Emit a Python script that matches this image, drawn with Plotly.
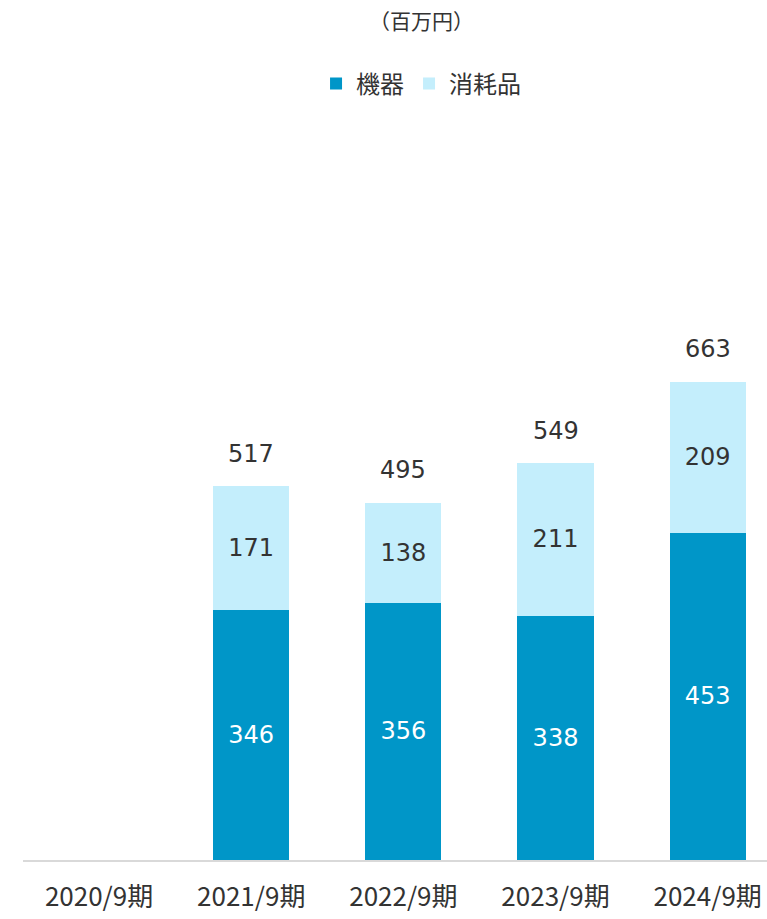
import plotly.graph_objects as go

# 売上高の内訳（百万円）
periods = ["2020/9期", "2021/9期", "2022/9期", "2023/9期", "2024/9期"]
equipment = [None, 346, 356, 338, 453]      # 機器
consumables = [None, 171, 138, 211, 209]    # 消耗品
totals = [None, 517, 495, 549, 663]

DARK = "#0096C8"
LIGHT = "#C4EEFC"
NUM_FONT = "DejaVu Sans, Verdana, sans-serif"
JP_FONT = "Noto Sans CJK JP, sans-serif"

fig = go.Figure()
fig.add_trace(go.Bar(
    x=periods, y=equipment, name="機器",
    marker=dict(color=DARK, line=dict(width=0)),
    text=[str(v) if v is not None else "" for v in equipment],
    textposition="inside", insidetextanchor="middle",
    textfont=dict(color="white", size=24, family=NUM_FONT),
))
fig.add_trace(go.Bar(
    x=periods, y=consumables, name="消耗品",
    marker=dict(color=LIGHT, line=dict(width=0)),
    text=[str(v) if v is not None else "" for v in consumables],
    textposition="inside", insidetextanchor="middle",
    textfont=dict(color="#333333", size=24, family=NUM_FONT),
))

# 合計値をバーの上に表示
for p, t in zip(periods, totals):
    if t is None:
        continue
    fig.add_annotation(
        x=p, y=t, text=str(t), showarrow=False,
        yanchor="bottom", yshift=16,
        font=dict(size=24, color="#333333", family=NUM_FONT),
    )

fig.add_annotation(
    xref="paper", yref="paper", x=0.535, y=1.0, yshift=110,
    text="（百万円）", showarrow=False, yanchor="middle",
    font=dict(size=21, color="#333333", family=JP_FONT),
)

fig.update_layout(
    width=767, height=919,
    margin=dict(l=23, r=0, t=130, b=59, autoexpand=False),
    barmode="stack", bargap=0.5,
    paper_bgcolor="white", plot_bgcolor="white",
    showlegend=True,
    legend=dict(
        orientation="h", x=0.535, xanchor="center", y=1.0 + 46 / 730,
        yanchor="middle", yref="paper",
        font=dict(size=24, color="#333333", family=JP_FONT),
        traceorder="normal", itemwidth=30,
    ),
    xaxis=dict(
        range=[-0.5, 4.39], showgrid=False, ticks="", automargin=False,
        showline=True, linecolor="#d9d9d9", linewidth=2,
        tickfont=dict(size=26, color="#333333",
                      family="Liberation Sans Narrow, Noto Sans CJK JP, sans-serif"),
        ticklabelstandoff=13,
    ),
    yaxis=dict(range=[0, 1010], visible=False, showgrid=False, automargin=False),
)

fig.write_html("out.html")
